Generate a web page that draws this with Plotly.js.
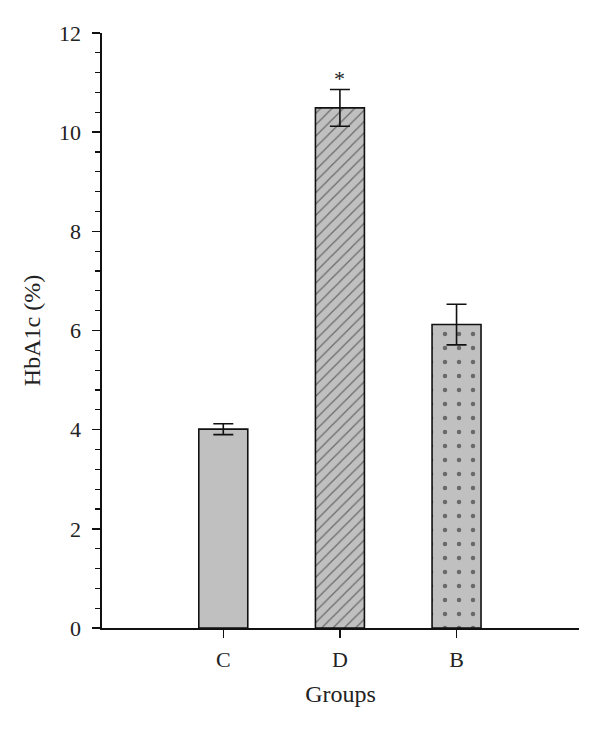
<!DOCTYPE html>
<html>
<head>
<meta charset="utf-8">
<script src="https://cdn.plot.ly/plotly-3.0.1.min.js"></script>
<style>html,body{margin:0;padding:0;background:#fff;}#chart{width:600px;height:729px;}</style>
</head>
<body>
<div id="chart"></div>
<script>
const groups = ["C", "D", "B"];
const hba1c = [4.01, 10.49, 6.12];
const errors = [0.11, 0.37, 0.41];
const patternShapes = ["", "/", "."];
const significance = ["", "*", ""];
const yTicks = [0, 2, 4, 6, 8, 10, 12];

const font = "Liberation Serif, DejaVu Serif, serif";

const trace = {
  type: "bar",
  x: groups,
  y: hba1c,
  width: 0.42,
  marker: {
    color: "#c0c0c0",
    line: {color: "#111", width: 1.6},
    pattern: {
      shape: patternShapes,
      fgcolor: "#111",
      bgcolor: "#c0c0c0",
      size: [8, 8, 14],
      solidity: [0.15, 0.15, 0.08],
      fillmode: "overlay"
    }
  },
  error_y: {type: "data", array: errors, visible: true, color: "#111", thickness: 1.6, width: 10},
  hoverinfo: "none"
};

const annotations = groups.map((g, i) => ({
  x: g, y: hba1c[i] + errors[i], text: significance[i], showarrow: false,
  yanchor: "bottom", yshift: -3, font: {family: font, size: 22, color: "#222"}
})).filter(a => a.text);

const layout = {
  width: 600, height: 729,
  margin: {l: 102, r: 21, t: 33, b: 101},
  paper_bgcolor: "#fff", plot_bgcolor: "#fff",
  showlegend: false,
  font: {family: font, color: "#222", size: 22},
  xaxis: {
    type: "category",
    range: [-1.04, 3.05],
    showline: true, linecolor: "#111", linewidth: 1.6,
    ticks: "outside", ticklen: 8, tickwidth: 1.4, tickcolor: "#111",
    showgrid: false, zeroline: false,
    ticklabelstandoff: 3,
    tickfont: {family: font, size: 22, color: "#222"},
    title: {text: "Groups", font: {family: font, size: 24, color: "#222"}, standoff: 14}
  },
  yaxis: {
    range: [0, 12],
    tickvals: yTicks,
    ticktext: yTicks.map(String),
    showline: true, linecolor: "#111", linewidth: 1.6,
    ticks: "outside", ticklen: 8, tickwidth: 1.4, tickcolor: "#111",
    minor: {dtick: 0.4, tick0: 0, ticks: "outside", ticklen: 5, tickwidth: 1.2, tickcolor: "#111"},
    showgrid: false, zeroline: false,
    ticklabelstandoff: 7,
    tickfont: {family: font, size: 22, color: "#222"},
    title: {text: "HbA1c (%)", font: {family: font, size: 24, color: "#222"}, standoff: 11}
  },
  annotations: annotations
};

Plotly.newPlot("chart", [trace], layout, {displayModeBar: false, staticPlot: true});
</script>
</body>
</html>
